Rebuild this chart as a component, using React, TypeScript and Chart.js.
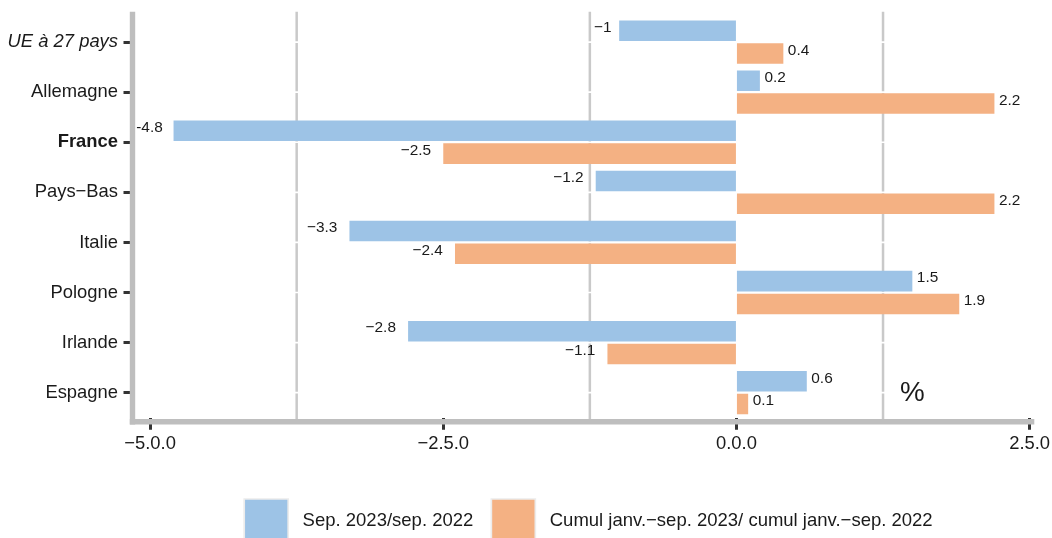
import { useEffect, useRef } from "react";
import { Chart, registerables } from "chart.js";

Chart.register(...registerables);

const FONT = "'Liberation Sans', Arial, Helvetica, sans-serif";
const TEXT = "#1a1a1a";

const categories = [
  "UE à 27 pays",
  "Allemagne",
  "France",
  "Pays−Bas",
  "Italie",
  "Pologne",
  "Irlande",
  "Espagne",
];
const italicCategories = ["UE à 27 pays"];
const boldCategories = ["France"];

const seriesNames = [
  "Sep. 2023/sep. 2022",
  "Cumul janv.−sep. 2023/ cumul janv.−sep. 2022",
];
const seriesColors = ["#9dc3e6", "#f4b183"];

const sepValues = [-1, 0.2, -4.8, -1.2, -3.3, 1.5, -2.8, 0.6];
const cumulValues = [0.4, 2.2, -2.5, 2.2, -2.4, 1.9, -1.1, 0.1];
const sepLabels = ["−1", "0.2", "-4.8", "−1.2", "−3.3", "1.5", "−2.8", "0.6"];
const cumulLabels = ["0.4", "2.2", "−2.5", "2.2", "−2.4", "1.9", "−1.1", "0.1"];

const xTickValues = [-5, -2.5, 0, 2.5];
const xTickLabels = ["−5.0.0", "−2.5.0", "0.0.0", "2.5.0"];
const minorGridValues = [-3.75, -1.25, 1.25];

const unitText = "%";
const unitX = 1.5;
const unitCategory = "Espagne";

const allValues = [sepValues, cumulValues];
const allLabels = [sepLabels, cumulLabels];

const framePlugin = {
  id: "frame",
  afterLayout(chart: any) {
    if (chart.legend) {
      chart.legend.left = 226.2;
    }
  },
  beforeDatasetsDraw(chart: any) {
    const { ctx, chartArea: a, scales } = chart;
    const x = scales.x;
    const y = scales.y;
    ctx.save();
    ctx.lineCap = "butt";
    // minor vertical grid lines
    ctx.strokeStyle = "#c9c9c9";
    ctx.lineWidth = 2.5;
    minorGridValues.forEach((v) => {
      const px = x.getPixelForValue(v);
      ctx.beginPath();
      ctx.moveTo(px, a.top - 5.3);
      ctx.lineTo(px, a.bottom + 2);
      ctx.stroke();
    });
    // white lines at category centres
    ctx.strokeStyle = "#ffffff";
    ctx.lineWidth = 1.7;
    categories.forEach((_, i) => {
      const py = y.getPixelForValue(i);
      ctx.beginPath();
      ctx.moveTo(a.left + 2.7, py);
      ctx.lineTo(a.right, py);
      ctx.stroke();
    });
    // axis lines
    ctx.strokeStyle = "#bebebe";
    ctx.lineWidth = 5.4;
    ctx.beginPath();
    ctx.moveTo(a.left, a.top - 5.3);
    ctx.lineTo(a.left, a.bottom + 6.7);
    ctx.stroke();
    ctx.beginPath();
    ctx.moveTo(a.left - 2.7, a.bottom + 4);
    ctx.lineTo(a.right, a.bottom + 4);
    ctx.stroke();
    ctx.restore();
  },
  afterDatasetsDraw(chart: any) {
    const { ctx, scales } = chart;
    ctx.save();
    ctx.font = `15.4px ${FONT}`;
    ctx.fillStyle = TEXT;
    ctx.textBaseline = "middle";
    allValues.forEach((vals, di) => {
      const meta = chart.getDatasetMeta(di);
      meta.data.forEach((bar: any, j: number) => {
        const text = allLabels[di][j];
        const w = ctx.measureText(text).width;
        const yy = bar.y - 3;
        if (vals[j] >= 0) {
          ctx.textAlign = "left";
          ctx.fillText(text, bar.x + 4.5, yy);
        } else {
          ctx.textAlign = "right";
          ctx.fillText(text, bar.x - (1.5 + 0.35 * w), yy);
        }
      });
    });
    // unit annotation
    ctx.font = `27.8px ${FONT}`;
    ctx.textAlign = "center";
    ctx.textBaseline = "middle";
    ctx.fillText(
      unitText,
      scales.x.getPixelForValue(unitX),
      scales.y.getPixelForValue(categories.indexOf(unitCategory)) + 1
    );
    ctx.restore();
  },
};

export default function App() {
  const ref = useRef<HTMLCanvasElement | null>(null);

  useEffect(() => {
    document.body.style.margin = "0";
    if (!ref.current) return;
    const chart = new Chart(ref.current, {
      type: "bar",
      data: {
        labels: categories,
        datasets: [
          {
            label: seriesNames[0],
            data: sepValues,
            backgroundColor: seriesColors[0],
            borderWidth: 0,
            barPercentage: 0.9,
            categoryPercentage: 0.91,
          },
          {
            label: seriesNames[1],
            data: cumulValues,
            backgroundColor: seriesColors[1],
            borderWidth: 0,
            barPercentage: 0.9,
            categoryPercentage: 0.91,
          },
        ],
      },
      options: {
        indexAxis: "y",
        responsive: false,
        animation: false,
        layout: { padding: { top: 17, right: 17.7, left: 0, bottom: 0 } },
        plugins: {
          tooltip: { enabled: false },
          legend: {
            position: "bottom",
            align: "start",
            labels: {
              boxWidth: 44,
              boxHeight: 44,
              padding: 18,
              color: TEXT,
              font: { family: FONT, size: 18.5 },
              generateLabels: (c: any) =>
                c.data.datasets.map((ds: any, i: number) => ({
                  text: " " + ds.label,
                  fillStyle: ds.backgroundColor,
                  strokeStyle: "#ececec",
                  lineWidth: 1.7,
                  hidden: false,
                  datasetIndex: i,
                  fontColor: TEXT,
                })),
            },
          },
        },
        scales: {
          x: {
            type: "linear",
            min: -5.15,
            max: 2.54,
            afterBuildTicks: (s: any) => {
              s.ticks = xTickValues.map((v) => ({ value: v }));
            },
            afterFit: (s: any) => {
              s.height = 63.25;
              s.paddingLeft = 0;
              s.paddingRight = 0;
            },
            ticks: {
              autoSkip: false,
              maxRotation: 0,
              padding: 3,
              color: TEXT,
              font: { family: FONT, size: 18.4 },
              callback: (v: any) => {
                const i = xTickValues.indexOf(Number(v));
                return i >= 0 ? xTickLabels[i] : "";
              },
            },
            grid: {
              drawOnChartArea: false,
              tickLength: 12,
              tickWidth: 3,
              tickColor: "#333333",
            },
            border: { display: false },
          },
          y: {
            type: "category",
            afterFit: (s: any) => {
              s.width = 132.5;
            },
            ticks: {
              autoSkip: false,
              padding: 5.5,
              color: TEXT,
              font: (c: any) => {
                const lab = categories[c.index];
                return {
                  family: FONT,
                  size: 18.4,
                  style: italicCategories.includes(lab) ? "italic" : "normal",
                  weight: boldCategories.includes(lab) ? "bold" : "normal",
                };
              },
            },
            grid: {
              drawOnChartArea: false,
              offset: false,
              tickLength: 9,
              tickWidth: 3,
              tickColor: "#333333",
            },
            border: { display: false },
          },
        },
      },
      plugins: [framePlugin],
    } as any);
    return () => chart.destroy();
  }, []);

  return (
    <div style={{ width: 1052, height: 538, overflow: "hidden", position: "relative" }}>
      <canvas ref={ref} width={1052} height={553} style={{ display: "block" }} />
    </div>
  );
}
